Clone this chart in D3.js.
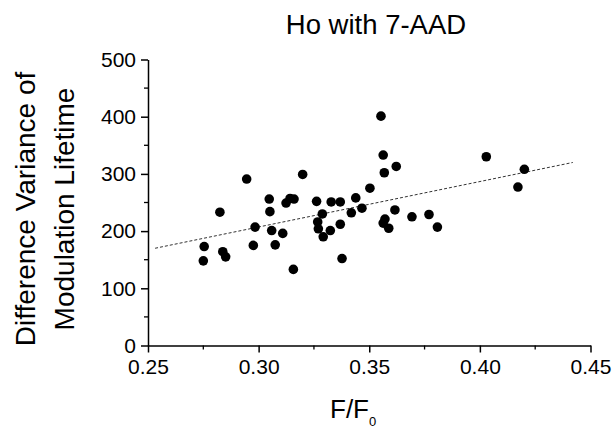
<!DOCTYPE html>
<html><head><meta charset="utf-8">
<script src="https://cdn.jsdelivr.net/npm/d3@7"></script>
<style>body{margin:0;background:#fff;} text{font-family:"Liberation Sans",Arial,sans-serif;fill:#000;}</style>
</head><body>
<svg id="c" width="616" height="428"></svg>
<script>
const xValues = [0.2754,0.2750,0.2825,0.2838,0.2851,0.2946,0.2976,0.2984,0.3048,0.3051,0.3059,0.3075,0.3109,0.3124,0.3142,0.3160,0.3157,0.3199,0.3262,0.3267,0.3270,0.3288,0.3292,0.3324,0.3328,0.3369,0.3369,0.3377,0.3419,0.3439,0.3467,0.3503,0.3553,0.3563,0.3568,0.3622,0.3616,0.3571,0.3563,0.3588,0.3693,0.3770,0.3808,0.4029,0.4172,0.4201];
const yValues = [173,148,233,164,155,291,175,207,256,234,201,176,196,249,257,256,133,299,252,216,204,230,190,201,251,251,212,152,232,258,240,275,401,333,302,313,237,221,214,205,225,229,207,330,277,308];
const fitX = [0.2532, 0.4420];
const fitY = [170, 320];
const xTicks = [0.25,0.30,0.35,0.40,0.45];
const xMinor = [0.275,0.325,0.375,0.425];
const yTicks = [0,100,200,300,400,500];
const yMinor = [50,150,250,350,450];
const title = "Ho with 7-AAD";
const yTitle = ["Difference Variance of","Modulation Lifetime"];

const svg = d3.select("#c");
const x = d3.scaleLinear().domain([0.25,0.45]).range([148,590.5]);
const y = d3.scaleLinear().domain([0,500]).range([345.5,59.5]);

// minor ticks
svg.append("g").selectAll("line").data(xMinor).join("line")
  .attr("x1",d=>x(d)).attr("x2",d=>x(d)).attr("y1",y(0)).attr("y2",y(0)+4)
  .attr("stroke","#000").attr("stroke-width",1.3);
svg.append("g").selectAll("line").data(yMinor).join("line")
  .attr("y1",d=>y(d)).attr("y2",d=>y(d)).attr("x1",x(0.25)).attr("x2",x(0.25)-4)
  .attr("stroke","#000").attr("stroke-width",1.3);

const xa = svg.append("g").attr("transform",`translate(0,${y(0)})`)
  .call(d3.axisBottom(x).tickValues(xTicks).tickFormat(d3.format(".2f")).tickSizeInner(7).tickSizeOuter(0).tickPadding(7));
const ya = svg.append("g").attr("transform",`translate(${x(0.25)},0)`)
  .call(d3.axisLeft(y).tickValues(yTicks).tickSizeInner(7).tickSizeOuter(0).tickPadding(5));
[xa,ya].forEach(a=>{
  a.selectAll("path,line").attr("stroke","#000").attr("stroke-width",1.5);
  a.selectAll("text").style("font-size","21px").attr("fill","#000");
});

// fit line
svg.append("line")
  .attr("x1",x(fitX[0])).attr("y1",y(fitY[0])).attr("x2",x(fitX[1])).attr("y2",y(fitY[1]))
  .attr("stroke","#333").attr("stroke-width",1).attr("stroke-dasharray","3,2");

// points
svg.append("g").selectAll("circle").data(xValues.map((v,i)=>[v,yValues[i]])).join("circle")
  .attr("cx",d=>x(d[0])).attr("cy",d=>y(d[1])).attr("r",4.8).attr("fill","#000");

// title
svg.append("text").attr("x",376).attr("y",34).attr("text-anchor","middle").style("font-size","27.5px").text(title);

// y title
const yt = svg.append("text").attr("transform","translate(35,209) rotate(-90)").attr("text-anchor","middle").style("font-size","28px");
yt.append("tspan").attr("x",0).attr("y",0).text(yTitle[0]);
yt.append("tspan").attr("x",0).attr("y",39).text(yTitle[1]);

// x title
const xt = svg.append("text").attr("x",330).attr("y",418).style("font-size","26px");
xt.append("tspan").text("F/F");
xt.append("tspan").attr("dy",8).style("font-size","13px").text("0");
</script>
</body></html>
